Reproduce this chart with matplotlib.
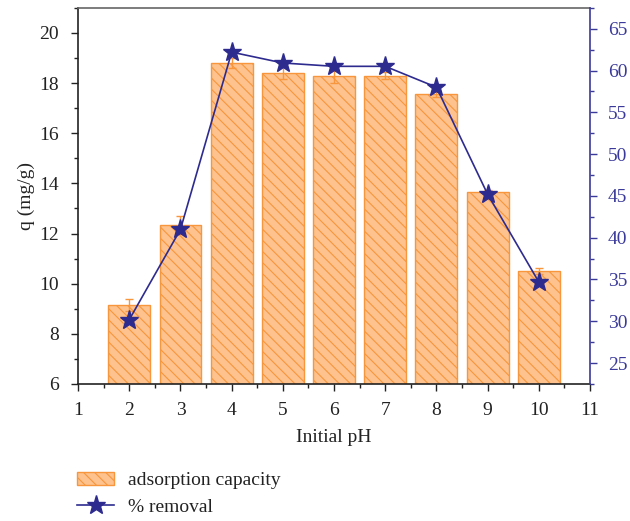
import numpy as np
import matplotlib.pyplot as plt
from matplotlib.ticker import MultipleLocator

plt.rcParams['font.family'] = ['Liberation Serif', 'DejaVu Serif']
plt.rcParams['hatch.linewidth'] = 0.8

# adsorption data vs initial pH
ph = [2, 3, 4, 5, 6, 7, 8, 9, 10]
capacity = [9.15, 12.35, 18.8, 18.4, 18.3, 18.3, 17.55, 13.65, 10.5]
capacity_err = [0.25, 0.35, 0.2, 0.25, 0.3, 0.15, 0.12, 0.1, 0.12]
removal = [30.2, 41.0, 62.2, 60.9, 60.5, 60.5, 58.0, 45.2, 34.7]

orange_edge = '#F7963C'
orange_fill = '#FDC28E'
navy = '#2E2B8F'
axis_navy = '#3B3A9A'
fs = 14

fig = plt.figure(figsize=(6.3, 5.21), dpi=100)
ax = fig.add_axes([0.124, 0.263, 0.8125, 0.722])

bars = ax.bar(ph, capacity, width=0.82, color=orange_fill, edgecolor=orange_edge,
              hatch='\\\\\\', linewidth=1.0, label='adsorption capacity', zorder=2)
ax.errorbar(ph, capacity, yerr=capacity_err, fmt='none', ecolor=orange_edge,
            elinewidth=1.0, capsize=3, capthick=1.0, zorder=3)

ax.set_xlim(1, 11)
ax.set_ylim(6, 21)
ax.xaxis.set_major_locator(MultipleLocator(1))
ax.xaxis.set_minor_locator(MultipleLocator(0.5))
ax.yaxis.set_major_locator(MultipleLocator(2))
ax.yaxis.set_minor_locator(MultipleLocator(1))
ax.tick_params(axis='both', which='major', direction='out', length=5, width=1,
               labelsize=fs, colors='#222222')
ax.tick_params(axis='x', which='major', pad=8)
ax.tick_params(axis='y', which='major', pad=9)
ax.tick_params(axis='both', which='minor', direction='out', length=3, width=1,
               colors='#222222')
ax.set_xlabel('Initial pH', fontsize=fs, color='#222222', labelpad=7)
ax.set_ylabel('q (mg/g)', fontsize=fs, color='#222222', labelpad=3)
for side in ['left', 'bottom']:
    ax.spines[side].set_color('#222222')
    ax.spines[side].set_linewidth(1.2)
ax.spines['top'].set_color('#666666')
ax.spines['top'].set_linewidth(1.2)
ax.spines['right'].set_visible(False)

ax2 = ax.twinx()
line, = ax2.plot(ph, removal, color=navy, lw=1.2, marker='*', markersize=14,
                 markeredgecolor=navy, markerfacecolor=navy, label='% removal',
                 zorder=4)
ax2.set_ylim(22.5, 67.5)
ax2.yaxis.set_major_locator(MultipleLocator(5))
ax2.yaxis.set_minor_locator(MultipleLocator(2.5))
ax2.tick_params(axis='y', which='major', direction='out', length=5, width=1,
                labelsize=fs, colors=axis_navy, pad=8)
ax2.tick_params(axis='y', which='minor', direction='out', length=3, width=1,
                colors=axis_navy)
ax2.spines['right'].set_color(axis_navy)
ax2.spines['right'].set_linewidth(1.2)
for side in ['left', 'top', 'bottom']:
    ax2.spines[side].set_visible(False)

fig.legend([bars, line], ['adsorption capacity', '% removal'],
           loc='upper left', bbox_to_anchor=(0.095, 0.128), frameon=False,
           fontsize=fs, handlelength=1.9, handletextpad=0.7, labelspacing=0.45,
           labelcolor='#222222')

fig.savefig('out.png', dpi=100)
